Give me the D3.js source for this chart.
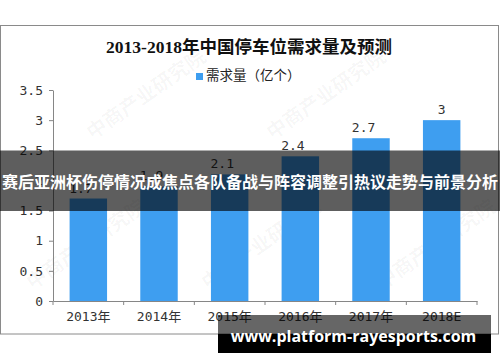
<!DOCTYPE html>
<html>
<head>
<meta charset="utf-8">
<script src="https://cdn.jsdelivr.net/npm/d3@7"></script>
<style>
  body { margin: 0; background: #fff; }
  svg { display: block; }
</style>
</head>
<body>
<div id="chart"></div>
<script>
// chart data
const years = ["2013年", "2014年", "2015年", "2016年", "2017年", "2018E"];
const demand = [1.7, 1.9, 2.1, 2.4, 2.7, 3];
const yTicks = [0, 0.5, 1, 1.5, 2, 2.5, 3, 3.5];
const titleText = "2013-2018年中国停车位需求量及预测";
const legendText = "需求量（亿个）";
const bannerText = "赛后亚洲杯伤停情况成焦点各队备战与阵容调整引热议走势与前景分析";
const siteText = "www.platform-rayesports.com";
const watermarkText = "中商产业研究院";

const width = 500, height = 362;
const blue = "#3e9ef0";
const axisColor = "#868686";
const numFont = "'DejaVu Sans Mono', 'Noto Sans CJK SC', monospace";

const svg = d3.select("#chart").append("svg")
    .attr("width", width)
    .attr("height", height);

// outer frame
svg.append("rect")
    .attr("x", 0.5).attr("y", 25.5)
    .attr("width", 498).attr("height", 308.5)
    .attr("fill", "#fff")
    .attr("stroke", "#8a8a8a");

// faint watermarks
const marks = [[150, 100], [330, 100], [440, 250], [90, 250], [265, 250]];
svg.append("g").selectAll("text")
    .data(marks)
    .join("text")
    .attr("transform", d => `translate(${d[0]},${d[1]}) rotate(-35)`)
    .attr("text-anchor", "middle")
    .style("font", "bold 20px 'Noto Sans CJK SC'")
    .attr("fill", "#000")
    .attr("fill-opacity", 0.04)
    .text(watermarkText);

const x = d3.scaleBand()
    .domain(years)
    .range([53, 477])
    .paddingInner(0.47)
    .paddingOuter(0.235);

const y = d3.scaleLinear()
    .domain([0, 3.5])
    .range([301, 90]);

// title
svg.append("text")
    .attr("x", 249).attr("y", 53)
    .attr("text-anchor", "middle")
    .style("font", "bold 17.5px 'Liberation Serif', 'Noto Sans CJK SC'")
    .attr("fill", "#111")
    .text(titleText);

// legend
svg.append("rect")
    .attr("x", 196).attr("y", 73)
    .attr("width", 7).attr("height", 7)
    .attr("fill", blue);
svg.append("text")
    .attr("x", 206).attr("y", 80)
    .style("font", "13.5px 'Noto Sans CJK SC'")
    .attr("fill", "#222")
    .text(legendText);

// y axis
const yAxis = svg.append("g")
    .attr("transform", "translate(53,0)")
    .call(d3.axisLeft(y).tickValues(yTicks).tickFormat(d => String(d)).tickSize(4).tickSizeOuter(0).tickPadding(6));
yAxis.select(".domain").attr("stroke", axisColor);
yAxis.selectAll(".tick line").attr("stroke", axisColor);
yAxis.selectAll(".tick text")
    .style("font", "13px " + numFont)
    .attr("fill", "#333");

// bars
svg.append("g").selectAll("rect")
    .data(demand)
    .join("rect")
    .attr("x", (d, i) => x(years[i]))
    .attr("y", d => y(d))
    .attr("width", x.bandwidth())
    .attr("height", d => y(0) - y(d))
    .attr("fill", blue);

// value labels (excel puts them slightly left of centre)
svg.append("g").selectAll("text")
    .data(demand)
    .join("text")
    .attr("x", (d, i) => x(years[i]) + x.bandwidth() / 2)
    .attr("y", d => y(d) - 6)
    .attr("dx", d => -(String(d).length - 1) * 3.7)
    .attr("text-anchor", "middle")
    .style("font", "13px " + numFont)
    .attr("fill", "#333")
    .text(d => String(d));

// x axis: labels centred, ticks on category boundaries
const xAxis = svg.append("g")
    .attr("transform", `translate(0,${y(0)})`)
    .call(d3.axisBottom(x).tickSize(0).tickPadding(11));
xAxis.select(".domain").attr("stroke", axisColor);
xAxis.selectAll(".tick text")
    .style("font", "13px " + numFont)
    .attr("fill", "#333");
const gap = x.step() - x.bandwidth();
const bounds = years.map(d => x(d) - gap / 2).concat([x.range()[1]]);
xAxis.selectAll(".bound")
    .data(bounds)
    .join("line")
    .attr("class", "bound")
    .attr("x1", d => d).attr("x2", d => d)
    .attr("y1", 0).attr("y2", 4)
    .attr("stroke", axisColor);

// middle overlay banner
svg.append("rect")
    .attr("x", 0).attr("y", 150.5)
    .attr("width", width).attr("height", 60.5)
    .attr("fill", "#000")
    .attr("fill-opacity", 0.63);
svg.append("text")
    .attr("x", 250).attr("y", 188)
    .attr("text-anchor", "middle")
    .style("font", "bold 16px 'Noto Sans CJK SC'")
    .attr("fill", "#fff")
    .text(bannerText);

// bottom site banner
svg.append("rect")
    .attr("x", 218).attr("y", 315)
    .attr("width", 273).attr("height", 19)
    .attr("fill", "#000")
    .attr("fill-opacity", 0.6);
svg.append("rect")
    .attr("x", 218).attr("y", 334)
    .attr("width", 273).attr("height", 19)
    .attr("fill", "#000");
svg.append("text")
    .attr("x", 353.5).attr("y", 341.5)
    .attr("text-anchor", "middle")
    .style("font", "bold 16px 'Open Sans'")
    .attr("fill", "#fff")
    .text(siteText);
</script>
</body>
</html>
